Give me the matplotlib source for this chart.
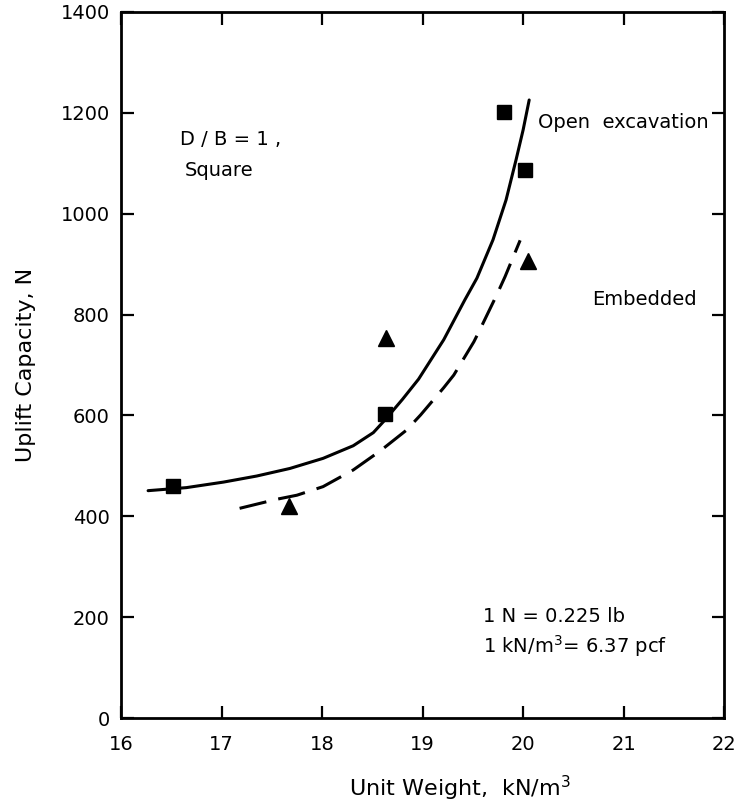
import numpy as np
import matplotlib
matplotlib.use('Agg')
from matplotlib import pyplot as plt

# measured points
open_x = [16.52, 18.63, 19.81, 20.02]
open_y = [460, 602, 1202, 1086]
emb_x = [17.67, 18.64, 20.05]
emb_y = [421, 753, 907]

# curves
open_curve_x = [16.27, 16.65, 17.02, 17.35, 17.68, 18.01, 18.31, 18.51, 18.63, 18.80,
                18.96, 19.21, 19.42, 19.54, 19.70, 19.83, 19.93, 20.00, 20.06]
open_curve_y = [451, 457, 468, 480, 495, 515, 540, 566, 592, 632,
                672, 750, 829, 872, 948, 1027, 1107, 1166, 1225]
emb_curve_x = [17.18, 17.55, 17.75, 18.01, 18.31, 18.58, 18.84, 18.98, 19.21, 19.31,
               19.51, 19.57, 19.74, 19.82, 19.97]
emb_curve_y = [416, 434, 442, 459, 492, 530, 571, 601, 655, 680,
               746, 770, 840, 875, 947]

x_ticks = [16, 17, 18, 19, 20, 21, 22]
y_ticks = [0, 200, 400, 600, 800, 1000, 1200, 1400]

plt.rcParams['font.family'] = 'DejaVu Sans'
fig = plt.figure(figsize=(7.56, 8.1), dpi=100)
ax = fig.add_axes([0.160, 0.1132, 0.798, 0.8724])

ax.plot(open_curve_x, open_curve_y, color='black', lw=2.2,
        solid_capstyle='round', solid_joinstyle='round')
ax.plot(emb_curve_x, emb_curve_y, color='black', lw=2.2, dashes=(9, 4),
        dash_joinstyle='round')
ax.plot(open_x, open_y, 's', color='black', ms=10, mec='black')
ax.plot(emb_x, emb_y, '^', color='black', ms=11, mec='black')

ax.set_xlim(16, 22)
ax.set_ylim(0, 1400)
ax.set_xticks(x_ticks)
ax.set_yticks(y_ticks)
ax.tick_params(direction='in', length=9, width=1.6, top=True, right=True,
               labelsize=14)
ax.tick_params(axis='x', pad=12)
ax.tick_params(axis='y', pad=8)
for s in ax.spines.values():
    s.set_linewidth(2)

ax.set_xlabel('Unit Weight,  kN/m$^3$', fontsize=16)
ax.xaxis.set_label_coords(0.562, -0.078)
ax.set_ylabel('Uplift Capacity, N', fontsize=16, labelpad=18)

ax.text(16.59, 1146, 'D / B = 1 ,', fontsize=14, va='center', ha='left')
ax.text(16.63, 1086, 'Square', fontsize=14, va='center', ha='left')
ax.text(20.15, 1181, 'Open  excavation', fontsize=14, va='center', ha='left')
ax.text(20.69, 829, 'Embedded', fontsize=14, va='center', ha='left')
ax.text(19.60, 201, '1 N = 0.225 lb', fontsize=14, va='center', ha='left')
ax.text(19.60, 143, '1 kN/m$^3$= 6.37 pcf', fontsize=14, va='center', ha='left')

fig.savefig('out.png', dpi=100)
